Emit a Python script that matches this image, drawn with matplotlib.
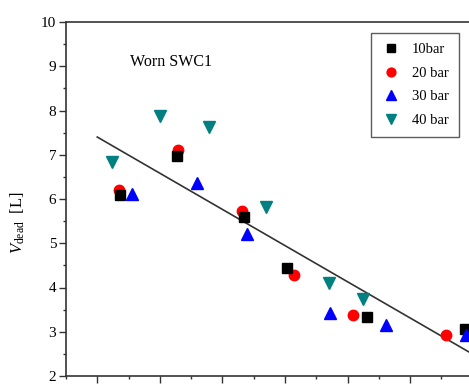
import matplotlib
matplotlib.use("Agg")
import matplotlib.pyplot as plt
from matplotlib.ticker import MultipleLocator, NullFormatter

plt.rcParams['font.family'] = ['Liberation Serif', 'DejaVu Serif']
plt.rcParams['mathtext.fontset'] = 'custom'
plt.rcParams['mathtext.rm'] = 'Liberation Serif'
plt.rcParams['mathtext.it'] = 'Liberation Serif:italic'

# Data (x positions in arbitrary axis units; x tick labels are cropped in the reference)
x_10bar = [1.37, 2.27, 3.35, 4.03, 5.31, 6.87]
y_10bar = [6.08, 6.97, 5.60, 4.45, 3.33, 3.06]

x_20bar = [1.34, 2.29, 3.31, 4.15, 5.08, 6.58]
y_20bar = [6.21, 7.11, 5.72, 4.29, 3.38, 2.93]

x_30bar = [1.56, 2.59, 3.39, 4.72, 5.62, 6.90]
y_30bar = [6.12, 6.37, 5.22, 3.43, 3.16, 2.92]

x_40bar = [1.23, 2.00, 2.79, 3.69, 4.70, 5.25]
y_40bar = [6.84, 7.87, 7.62, 5.83, 4.10, 3.73]

fit_x = [1.0, 7.2]
fit_y = [7.40, 2.33]

labels = ["10bar", "20 bar", "30 bar", "40 bar"]
annotation = "Worn SWC1"

W, H = 469, 385
fig = plt.figure(figsize=(W / 100, H / 100), dpi=100)
ax_left, ax_right_px, ax_top, ax_bottom = 66, 504, 22, 376
ax = fig.add_axes([ax_left / W, 1 - ax_bottom / H,
                   (ax_right_px - ax_left) / W, (ax_bottom - ax_top) / H])

ax.plot(fit_x, fit_y, color='#333333', lw=1.2, zorder=1)

ax.plot(x_10bar, y_10bar, 's', color='black', ms=6.5, ls='none', label=labels[0], zorder=3)
ax.plot(x_20bar, y_20bar, 'o', color='#ff0000', ms=7.5, ls='none', label=labels[1], zorder=2)
ax.plot(x_30bar, y_30bar, '^', color='#0000ff', ms=8, ls='none', label=labels[2], zorder=3)
ax.plot(x_40bar, y_40bar, 'v', color='#008080', ms=8, ls='none', label=labels[3], zorder=3)

ax.set_xlim(0.5, 7.5)
ax.set_ylim(2, 10)
ax.yaxis.set_major_locator(MultipleLocator(1))
ax.yaxis.set_minor_locator(MultipleLocator(0.5))
ax.xaxis.set_major_locator(MultipleLocator(1))
ax.xaxis.set_minor_locator(MultipleLocator(0.5))
ax.xaxis.set_major_formatter(NullFormatter())

for s in ax.spines.values():
    s.set_color('#333333')
    s.set_linewidth(1.2)

ax.tick_params(axis='both', which='major', direction='out', length=5, width=1.0,
               color='#333333', labelsize=11, pad=2)
ax.tick_params(axis='both', which='minor', direction='out', length=2.5, width=1.0,
               color='#333333')
ax.tick_params(axis='x', labelbottom=False)

ax.text((171 - ax_left) / (ax_right_px - ax_left), (ax_bottom - 62) / (ax_bottom - ax_top),
        annotation, transform=ax.transAxes, ha='center', va='center', fontsize=11.5)

fig.text(18 / W, 1 - 222.5 / H, r"$V_{\mathrm{dead}}$  [L]", rotation=90,
         ha='center', va='center', fontsize=12)

leg = ax.legend(loc='upper left', bbox_to_anchor=(371 / W, 1 - 33 / H),
                bbox_transform=fig.transFigure, frameon=True, fancybox=False,
                edgecolor='#333333', fontsize=10.5, handlelength=1.4,
                handletextpad=0.7, borderpad=0.7, labelspacing=0.7,
                borderaxespad=0, markerscale=0.85)
leg.get_frame().set_linewidth(1.0)

fig.savefig("out.png", dpi=100)
